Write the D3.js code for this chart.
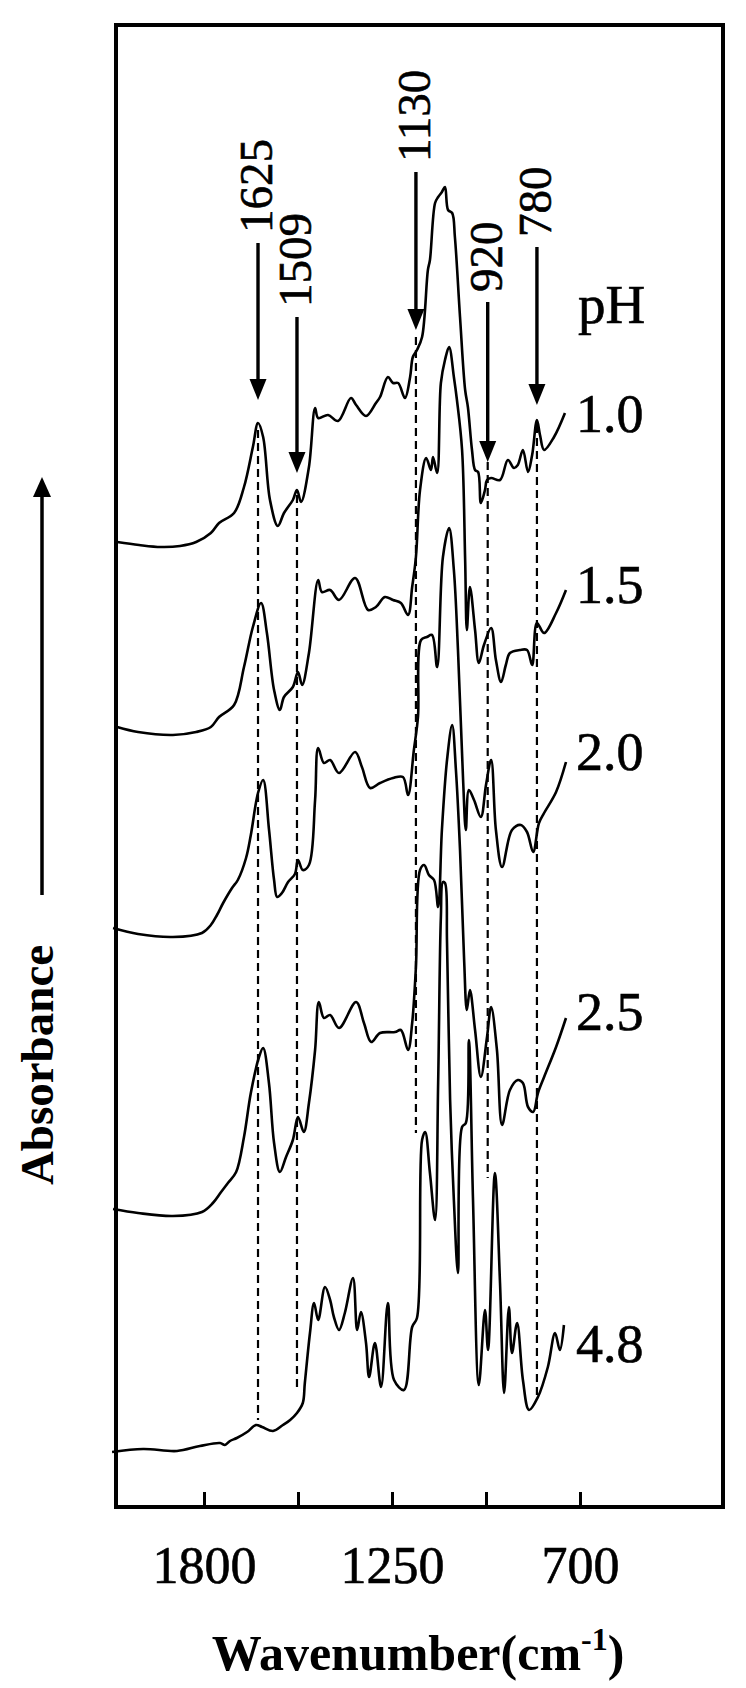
<!DOCTYPE html>
<html lang="en">
<head>
<meta charset="UTF-8">
<title>FTIR spectra vs pH</title>
<style>
  body { margin: 0; background: #fff; }
  text { font-family: "Liberation Serif", "Times New Roman", serif; fill: #000; }
</style>
</head>
<body>
<svg></svg>
<script src="https://cdn.jsdelivr.net/npm/d3@7/dist/d3.min.js"></script>
<script>
// x axis
const tickValues = [1800, 1525, 1250, 975, 700];
const tickLabels = {1800: "1800", 1250: "1250", 700: "700"};

// pH of each trace and where its label sits (absorbance, a.u.)
const phValues = ["1.0", "1.5", "2.0", "2.5", "4.8"];
const phLabelAt = [10.75, 9.04, 7.37, 4.77, 1.45];

// marked bands: label, drawn position (cm-1), arrow top / tip, dashed line top / bottom (a.u.)
const bandLabels = ["1625", "1509", "1130", "920", "780"];
const bandAt = [1642, 1528, 1180, 970, 826];
const arrowTop = [12.64, 11.90, 13.35, 12.05, 12.60];
const arrowTip = [11.07, 10.34, 11.77, 10.45, 11.02];
const dashTop = [10.77, 10.12, 11.70, 10.45, 10.82];
const dashBottom = [0.87, 1.17, 3.74, 3.29, 1.09];

// spectra, [wavenumber, absorbance + offset]
const spec10 = [[2054,9.65],[1990,9.62],[1926,9.60],[1870,9.61],[1823,9.65],[1780,9.74],[1756,9.84],[1712,9.94],[1683,10.20],[1657,10.60],[1642,10.84],[1627,10.70],[1607,10.07],[1584,9.81],[1566,9.94],[1540,10.07],[1528,10.17],[1516,10.05],[1493,10.40],[1475,10.99],[1466,10.89],[1437,10.92],[1408,10.86],[1370,11.09],[1355,11.02],[1326,10.91],[1297,11.04],[1285,11.10],[1262,11.30],[1247,11.24],[1232,11.24],[1212,11.09],[1197,11.30],[1189,11.50],[1177,11.57],[1162,11.70],[1145,12.37],[1139,12.47],[1124,13.04],[1115,13.10],[1104,13.15],[1095,13.20],[1086,12.97],[1074,12.94],[1066,12.70],[1051,11.90],[1036,11.17],[1028,11.00],[1016,10.57],[1007,10.37],[998,10.35],[990,10.04],[978,10.17],[972,10.27],[960,10.29],[934,10.27],[911,10.47],[893,10.39],[882,10.42],[867,10.57],[852,10.35],[840,10.52],[826,10.87],[817,10.72],[805,10.57],[776,10.70],[744,10.94]];
const spec15 = [[2054,7.80],[1993,7.75],[1891,7.72],[1823,7.75],[1780,7.80],[1756,7.90],[1712,8.02],[1683,8.40],[1657,8.80],[1633,9.04],[1616,8.74],[1595,8.17],[1578,7.97],[1566,8.10],[1540,8.20],[1525,8.35],[1513,8.22],[1493,8.54],[1466,9.27],[1455,9.15],[1431,9.17],[1405,9.07],[1358,9.29],[1320,8.97],[1297,9.00],[1271,9.10],[1247,9.07],[1224,9.04],[1203,8.92],[1191,9.20],[1180,9.50],[1168,10.17],[1150,10.49],[1136,10.37],[1130,10.50],[1118,10.34],[1107,11.24],[1095,11.47],[1083,11.60],[1069,11.30],[1060,11.07],[1045,10.57],[1036,9.47],[1031,8.77],[1022,9.20],[1007,8.77],[996,8.44],[981,8.62],[960,8.79],[946,8.47],[931,8.25],[917,8.42],[905,8.54],[876,8.57],[855,8.57],[840,8.42],[826,8.84],[805,8.74],[770,8.94],[741,9.17]];
const spec20 = [[2066,5.79],[1993,5.73],[1891,5.70],[1806,5.74],[1780,5.82],[1762,5.92],[1744,6.04],[1718,6.19],[1701,6.27],[1677,6.49],[1663,6.72],[1642,7.14],[1627,7.27],[1610,6.78],[1595,6.27],[1586,6.10],[1572,6.14],[1554,6.25],[1534,6.33],[1525,6.47],[1511,6.37],[1493,6.42],[1475,7.07],[1466,7.59],[1449,7.44],[1431,7.47],[1405,7.34],[1358,7.55],[1338,7.40],[1314,7.19],[1285,7.24],[1247,7.29],[1218,7.30],[1203,7.12],[1186,7.57],[1174,7.90],[1165,8.67],[1148,8.70],[1133,8.72],[1118,8.40],[1101,9.50],[1083,9.79],[1069,9.37],[1057,8.57],[1042,7.27],[1034,6.77],[1025,7.17],[1010,7.07],[990,6.90],[975,7.22],[960,7.47],[946,6.77],[928,6.40],[899,6.77],[873,6.82],[855,6.75],[837,6.55],[820,6.84],[805,6.94],[770,7.15],[741,7.45]];
const spec25 = [[2066,2.98],[1993,2.94],[1891,2.91],[1806,2.95],[1774,3.04],[1750,3.15],[1730,3.24],[1706,3.35],[1683,3.70],[1663,4.14],[1639,4.50],[1627,4.59],[1610,4.24],[1595,3.64],[1578,3.35],[1560,3.50],[1540,3.67],[1525,3.90],[1508,3.75],[1493,4.04],[1475,4.57],[1464,5.05],[1449,4.89],[1431,4.92],[1405,4.79],[1355,5.05],[1332,4.84],[1311,4.65],[1285,4.74],[1241,4.75],[1224,4.77],[1203,4.57],[1191,4.84],[1180,5.40],[1168,6.37],[1156,6.42],[1142,6.32],[1127,6.27],[1115,6.00],[1104,6.77],[1089,7.47],[1074,7.82],[1063,7.37],[1051,6.57],[1039,5.47],[1031,4.97],[1022,5.17],[1007,4.77],[990,4.30],[972,4.70],[960,5.00],[943,4.57],[928,3.82],[905,4.17],[882,4.27],[867,4.24],[852,4.00],[837,3.95],[823,4.14],[805,4.30],[770,4.60],[741,4.89]];
const spec48 = [[2069,0.55],[1978,0.58],[1879,0.56],[1812,0.61],[1753,0.64],[1739,0.62],[1724,0.66],[1704,0.69],[1674,0.75],[1648,0.82],[1630,0.80],[1598,0.76],[1569,0.82],[1548,0.87],[1528,0.94],[1511,1.04],[1505,1.24],[1490,1.74],[1478,2.04],[1466,1.87],[1446,2.20],[1431,2.07],[1420,1.90],[1405,1.77],[1388,1.94],[1364,2.29],[1352,1.77],[1341,1.95],[1326,1.64],[1317,1.30],[1300,1.64],[1282,1.20],[1262,2.04],[1244,1.27],[1215,1.17],[1191,1.80],[1177,1.89],[1162,3.67],[1153,3.75],[1139,3.34],[1124,2.87],[1115,4.24],[1107,5.90],[1101,6.25],[1095,6.24],[1089,5.64],[1080,4.07],[1069,3.07],[1057,2.34],[1045,3.80],[1034,3.84],[1025,4.67],[1013,3.07],[996,1.22],[978,1.97],[969,1.57],[949,3.34],[934,2.24],[922,1.14],[908,2.00],[899,1.54],[884,1.84],[867,1.27],[849,0.97],[823,1.10],[794,1.40],[773,1.74],[759,1.57],[747,1.82]];
const spectra = [spec10, spec15, spec20, spec25, spec48];

const width = 746, height = 1688;
const frame = {left: 116, right: 723, top: 25, bottom: 1507};

const svg = d3.select("svg").attr("width", width).attr("height", height);

const x = d3.scaleLinear().domain([1800, 700]).range([204, 580]);
const y = d3.scaleLinear().domain([0, 14.82]).range([frame.bottom, frame.top]);

// spectra
const line = d3.line()
  .x(d => x(d[0]))
  .y(d => y(d[1]))
  .curve(d3.curveCatmullRom.alpha(0.5));
svg.append("g")
  .selectAll("path")
  .data(spectra)
  .join("path")
  .attr("d", line)
  .attr("fill", "none")
  .attr("stroke", "#000")
  .attr("stroke-width", 2.6)
  .attr("stroke-linejoin", "round");

// dashed guide lines
svg.append("g")
  .selectAll("line")
  .data(bandAt)
  .join("line")
  .attr("x1", d => x(d)).attr("x2", d => x(d))
  .attr("y1", (d, i) => y(dashTop[i]))
  .attr("y2", (d, i) => y(dashBottom[i]))
  .attr("stroke", "#000")
  .attr("stroke-width", 2.2)
  .attr("stroke-dasharray", "8,5");

// band arrows + labels
const bands = svg.append("g").selectAll("g").data(bandLabels).join("g");
bands.append("line")
  .attr("x1", (d, i) => x(bandAt[i])).attr("x2", (d, i) => x(bandAt[i]))
  .attr("y1", (d, i) => y(arrowTop[i]))
  .attr("y2", (d, i) => y(arrowTip[i]) - 18)
  .attr("stroke", "#000").attr("stroke-width", 3.4);
bands.append("path")
  .attr("d", (d, i) => {
    const cx = x(bandAt[i]), ty = y(arrowTip[i]);
    return `M${cx},${ty} L${cx - 8.5},${ty - 21} L${cx + 8.5},${ty - 21} Z`;
  })
  .attr("fill", "#000");
bands.append("text")
  .attr("transform", (d, i) => `translate(${x(bandAt[i]) + 14},${y(arrowTop[i]) - 10}) rotate(-90)`)
  .attr("font-size", 47)
  .attr("stroke", "#000").attr("stroke-width", 0.6)
  .text(d => d);

// pH labels
svg.append("text")
  .attr("x", 578).attr("y", 323)
  .attr("font-size", 55)
  .attr("stroke", "#000").attr("stroke-width", 0.6)
  .text("pH");
svg.append("g")
  .selectAll("text")
  .data(phValues)
  .join("text")
  .attr("x", 576)
  .attr("y", (d, i) => y(phLabelAt[i]))
  .attr("font-size", 54)
  .attr("stroke", "#000").attr("stroke-width", 0.6)
  .text(d => d);

// x axis: ticks point inward
const xAxis = svg.append("g")
  .attr("transform", `translate(0,${frame.bottom})`)
  .call(d3.axisBottom(x)
    .tickValues(tickValues)
    .tickSizeInner(-15)
    .tickSizeOuter(0)
    .tickFormat(d => tickLabels[d] || ""));
xAxis.select(".domain").remove();
xAxis.selectAll(".tick line").attr("stroke", "#000").attr("stroke-width", 3);
xAxis.selectAll(".tick text")
  .attr("y", 76).attr("dy", 0)
  .attr("font-size", 52)
  .attr("stroke", "#000").attr("stroke-width", 0.6)
  .attr("font-family", "Liberation Serif, Times New Roman, serif");

// frame
svg.append("rect")
  .attr("x", frame.left).attr("y", frame.top)
  .attr("width", frame.right - frame.left)
  .attr("height", frame.bottom - frame.top)
  .attr("fill", "none")
  .attr("stroke", "#000")
  .attr("stroke-width", 4);

// axis titles
const xt = svg.append("text")
  .attr("x", 418).attr("y", 1670)
  .attr("text-anchor", "middle")
  .attr("font-size", 50)
  .attr("font-weight", "bold");
xt.append("tspan").text("Wavenumber(cm");
xt.append("tspan").attr("font-size", 32).attr("dy", -20).text("-1");
xt.append("tspan").attr("dy", 20).text(")");

svg.append("text")
  .attr("transform", "translate(53,1065) rotate(-90)")
  .attr("text-anchor", "middle")
  .attr("font-size", 47)
  .attr("font-weight", "bold")
  .text("Absorbance");

// absorbance arrow
svg.append("line")
  .attr("x1", 42).attr("x2", 42)
  .attr("y1", 895).attr("y2", 495)
  .attr("stroke", "#000").attr("stroke-width", 3.5);
svg.append("path")
  .attr("d", "M42,477 L33,497 L51,497 Z")
  .attr("fill", "#000");
</script>
</body>
</html>
